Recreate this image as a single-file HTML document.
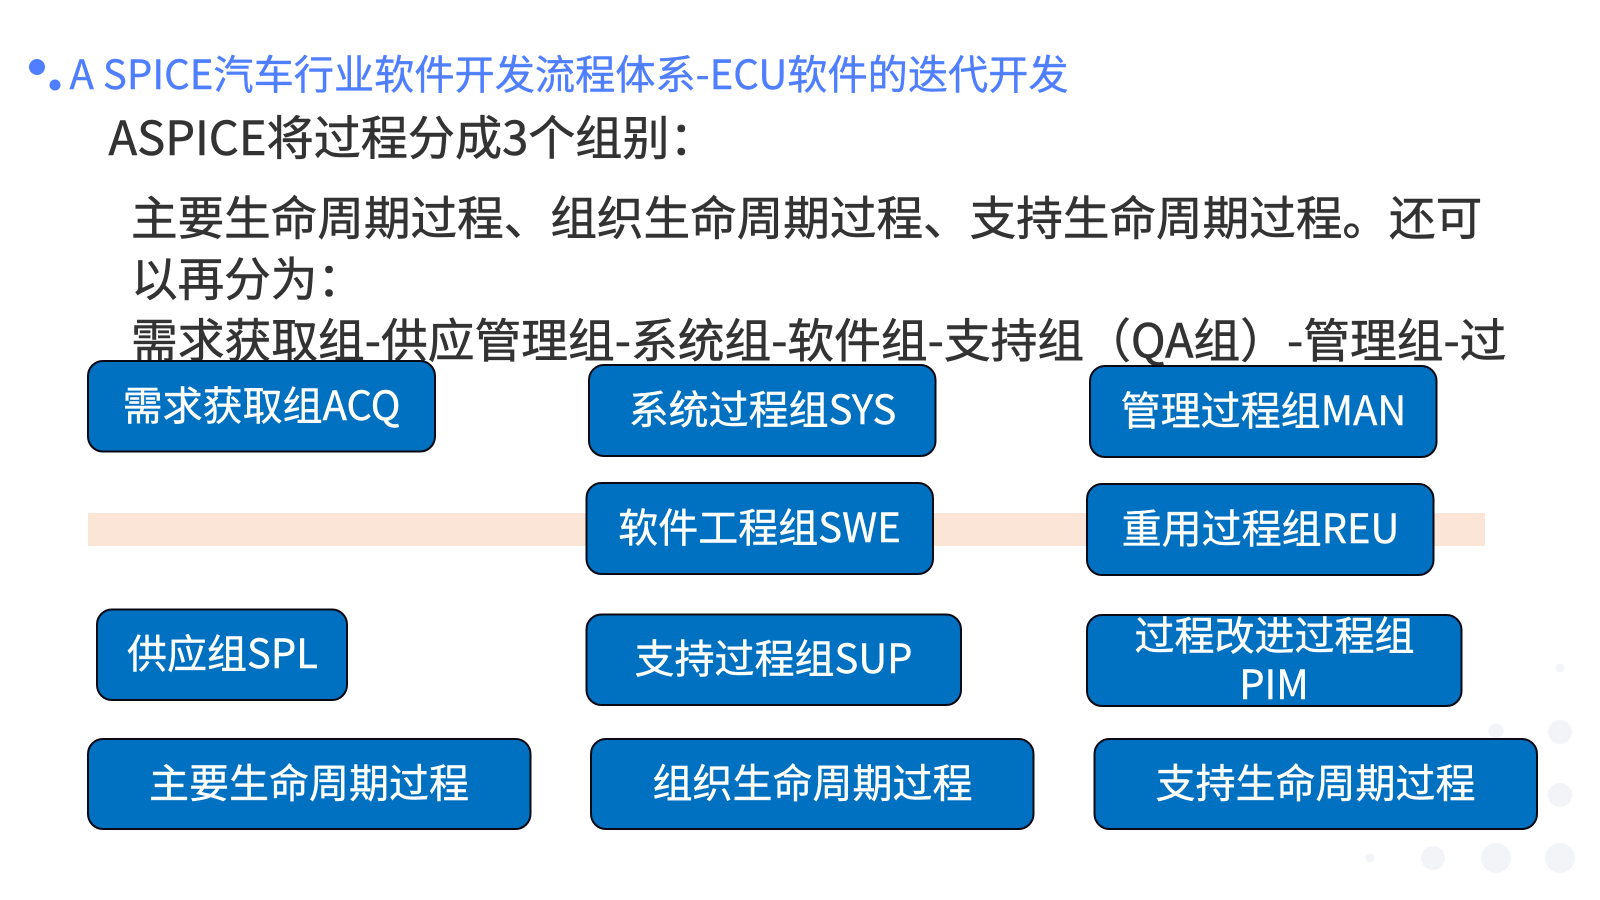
<!DOCTYPE html>
<html lang="zh">
<head>
<meta charset="utf-8">
<title>A SPICE</title>
<style>
html,body{margin:0;padding:0;background:#fff;width:1600px;height:900px;overflow:hidden}
svg{display:block}
text{font-family:"Noto Sans CJK SC","Liberation Sans",sans-serif}
.t{fill:#333;stroke:#333;stroke-width:.6px;font-size:46.6px}
.b{fill:#fff;stroke:#fff;stroke-width:.4px;font-size:40px;text-anchor:middle}
rect.n{fill:#0070c0;stroke:#0a0a14;stroke-width:2}
</style>
</head>
<body>
<svg width="1600" height="900" viewBox="0 0 1600 900" xmlns="http://www.w3.org/2000/svg">
<g fill="#f3f4f8">
<circle cx="1560" cy="668" r="4.5"/>
<circle cx="1496" cy="731" r="7.5"/>
<circle cx="1560" cy="732" r="12"/>
<circle cx="1560" cy="795" r="12"/>
<circle cx="1370" cy="858" r="4.5"/>
<circle cx="1433" cy="858" r="12"/>
<circle cx="1496" cy="858" r="15"/>
<circle cx="1560" cy="858" r="15"/>
</g>
<circle cx="37" cy="67" r="8" fill="#4f7fff"/>
<circle cx="55" cy="85" r="5.5" fill="#4f7fff"/>
<text x="69.5" y="89" font-size="40.2" fill="#4f7fff" stroke="#4f7fff" stroke-width=".4">A SPICE汽车行业软件开发流程体系-ECU软件的迭代开发</text>
<text class="t" x="108.500" y="155" style="font-size:47.1px">ASPICE将过程分成3个组别：</text>
<text class="t" x="131" y="235">主要生命周期过程、组织生命周期过程、支持生命周期过程。还可</text>
<text class="t" x="131" y="296">以再分为：</text>
<text class="t" x="131" y="357.500" style="font-size:46.75px">需求获取组-供应管理组-系统组-软件组-支持组（QA组）-管理组-过</text>
<rect x="88" y="513" width="1397" height="33" fill="#fbe5d6"/>
<rect class="n" x="88" y="361" width="347" height="90.500" rx="15"/>
<rect class="n" x="589" y="365" width="346.500" height="91" rx="15"/>
<rect class="n" x="1090" y="366" width="346.500" height="91" rx="15"/>
<rect class="n" x="586.500" y="483" width="346.500" height="91" rx="15"/>
<rect class="n" x="1087" y="484" width="346.500" height="91" rx="15"/>
<rect class="n" x="97" y="609.500" width="250" height="90.500" rx="15"/>
<rect class="n" x="586.500" y="614.500" width="374.500" height="90.500" rx="15"/>
<rect class="n" x="1087" y="615" width="374.500" height="91" rx="15"/>
<rect class="n" x="88" y="739" width="442.500" height="90" rx="15"/>
<rect class="n" x="591" y="739" width="442.500" height="90" rx="15"/>
<rect class="n" x="1094.500" y="739" width="442.500" height="90" rx="15"/>
<text class="b" x="261.500" y="420">需求获取组ACQ</text>
<text class="b" x="762.500" y="424">系统过程组SYS</text>
<text class="b" x="1263.500" y="425">管理过程组MAN</text>
<text class="b" x="759.500" y="542">软件工程组SWE</text>
<text class="b" x="1260.500" y="543">重用过程组REU</text>
<text class="b" x="222.500" y="668">供应组SPL</text>
<text class="b" x="773.500" y="673">支持过程组SUP</text>
<text class="b" x="1274.500" y="650">过程改进过程组</text>
<text class="b" x="1274" y="699">PIM</text>
<text class="b" x="309" y="797.500">主要生命周期过程</text>
<text class="b" x="812.500" y="797.500">组织生命周期过程</text>
<text class="b" x="1315.500" y="797.500">支持生命周期过程</text>
</svg>
</body>
</html>
